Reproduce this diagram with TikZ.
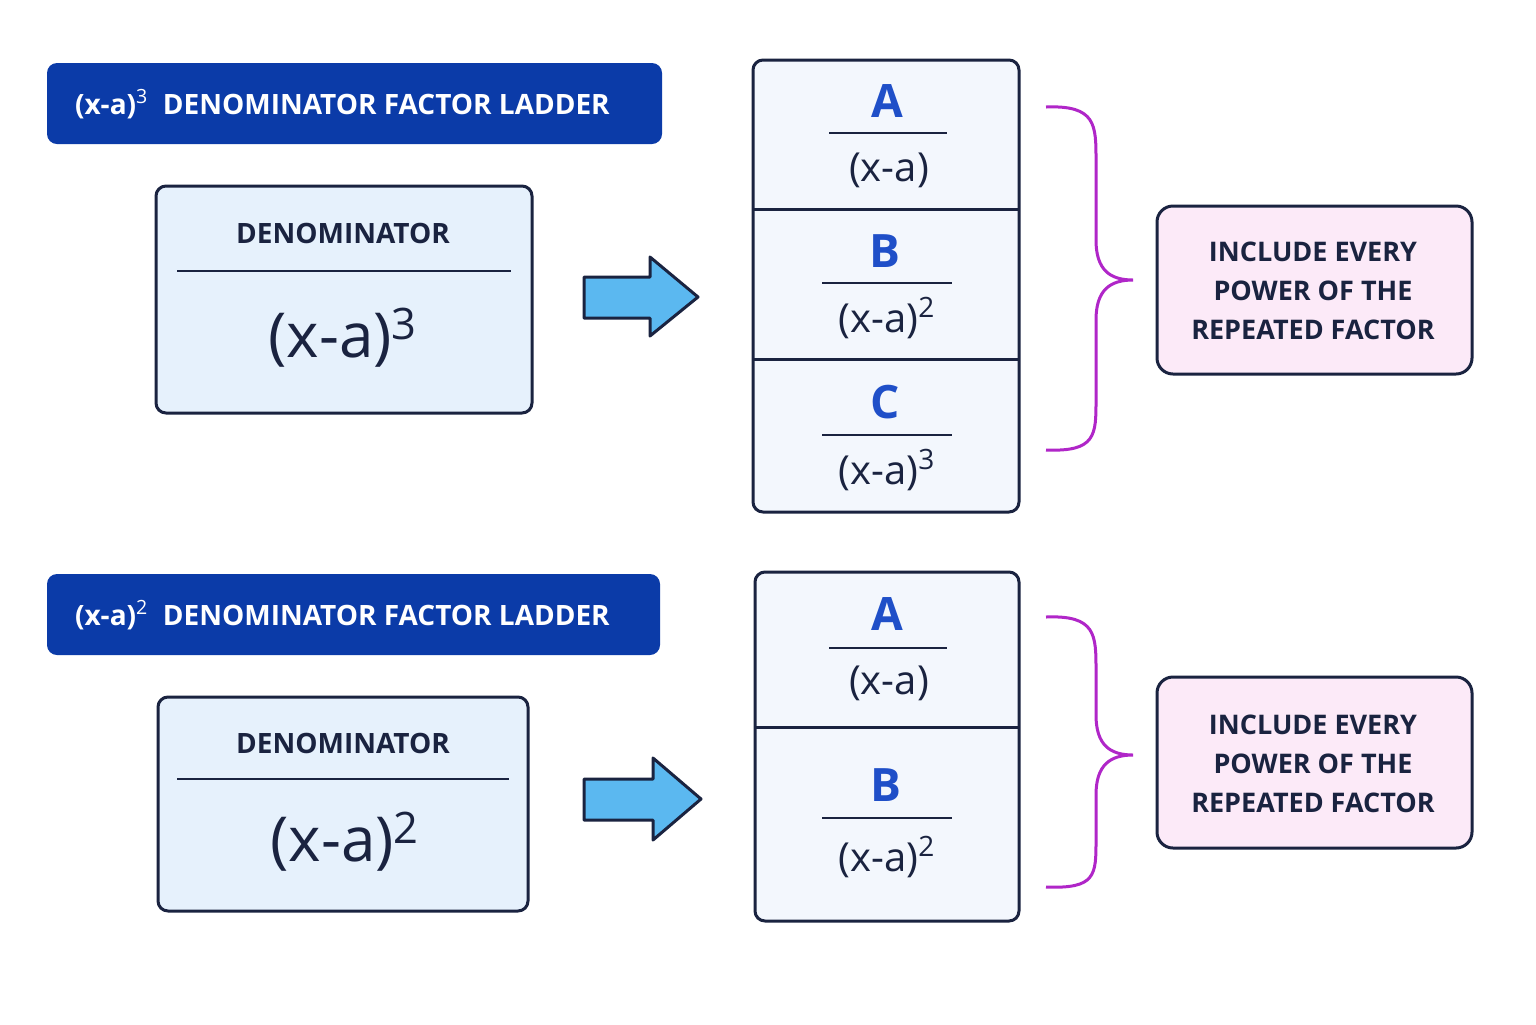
\documentclass[tikz,border=0pt]{standalone}
\usepackage{fontspec}
\setmainfont{Open Sans}
\definecolor{navy}{HTML}{1A2340}
\definecolor{tblue}{HTML}{0B3BA8}
\definecolor{lblue}{HTML}{E6F1FC}
\definecolor{cell}{HTML}{F3F7FD}
\definecolor{letter}{HTML}{1F4FC8}
\definecolor{arrowc}{HTML}{5BB8F0}
\definecolor{purp}{HTML}{B026C8}
\definecolor{pink}{HTML}{FCEAF8}
\begin{document}
\begin{tikzpicture}[x=0.5pt,y=-0.5pt,
 title/.style={fill=tblue,rounded corners=5pt},
 ttext/.style={text=white,font=\fontsize{14}{16}\selectfont\bfseries,anchor=west},
 denbox/.style={draw=navy,line width=1.5pt,fill=lblue,rounded corners=5pt},
 lad/.style={draw=navy,line width=1.5pt,fill=cell,rounded corners=5pt},
 sep/.style={draw=navy,line width=1.5pt},
 bar/.style={draw=navy,line width=1.2pt},
 lbl/.style={text=navy,font=\fontsize{14}{16}\selectfont\bfseries},
 big/.style={text=navy,font=\fontsize{31}{34}\selectfont},
 let/.style={text=letter,font=\fontsize{23}{26}\selectfont\bfseries},
 den/.style={text=navy,font=\fontsize{20}{22}\selectfont},
 arr/.style={draw=navy,line width=1.5pt,fill=arrowc,line join=round},
 brace/.style={draw=purp,line width=1.5pt},
 pbox/.style={draw=navy,line width=1.5pt,fill=pink,rounded corners=8pt},
 ptext/.style={text=navy,font=\fontsize{13.5}{19.5}\selectfont\bfseries,align=center}]
\fill[white] (0,0) rectangle (1536,1024);
% ===== top =====
\path[title] (47,63) rectangle (662,144);
\node[ttext] (t1) at (68,104) {(x-a)\textsuperscript{\mdseries 3}\ \ DENOMINATOR FACTOR LADDER};
\path[denbox] (156,186) rectangle (532,413);
\node[lbl] (d1) at (343,233) {DENOMINATOR};
\draw[bar] (177,271) -- (511,271);
\node[big] (e1) at (343,338) {(x-a)\textsuperscript{3}};
\draw[arr] (584,277) -- (650,277) -- (650,257) -- (698,297) -- (650,336) -- (650,318) -- (584,318) -- cycle;
\path[lad] (753,60) rectangle (1019,512);
\draw[sep] (753,209) -- (1019,209);
\draw[sep] (753,359) -- (1019,359);
\node[let] (a1) at (887,101) {A};
\draw[bar] (829,133) -- (947,133);
\node[den] (a1d) at (889,170) {(x-a)};
\node[let] (b1) at (885,251) {B};
\draw[bar] (822,283) -- (952,283);
\node[den] (b1d) at (887,318) {(x-a)\textsuperscript{2}};
\node[let] (c1) at (885,402) {C};
\draw[bar] (822,435) -- (952,435);
\node[den] (c1d) at (887,470) {(x-a)\textsuperscript{3}};
\draw[brace] (1046,107) .. controls (1096,105) and (1096,125) .. (1096,160) -- (1096,240) .. controls (1096,270) and (1110,280) .. (1133,280) .. controls (1110,280) and (1096,290) .. (1096,320) -- (1096,400) .. controls (1096,435) and (1096,452) .. (1046,450);
\path[pbox] (1157,206) rectangle (1472,374);
\node[ptext] (p1) at (1313,291) {INCLUDE EVERY\\POWER OF THE\\REPEATED FACTOR};
% ===== bottom =====
\path[title] (47,574) rectangle (660,655);
\node[ttext] (t2) at (68,615) {(x-a)\textsuperscript{\mdseries 2}\ \ DENOMINATOR FACTOR LADDER};
\path[denbox] (158,697) rectangle (528,911);
\node[lbl] (d2) at (343,743) {DENOMINATOR};
\draw[bar] (177,779) -- (509,779);
\node[big] (e2) at (345,842) {(x-a)\textsuperscript{2}};
\draw[arr] (584,779) -- (653,779) -- (653,758) -- (701,799) -- (653,840) -- (653,820) -- (584,820) -- cycle;
\path[lad] (755,572) rectangle (1019,921);
\draw[sep] (755,727) -- (1019,727);
\node[let] (a2) at (887,614) {A};
\draw[bar] (829,648) -- (947,648);
\node[den] (a2d) at (889,683) {(x-a)};
\node[let] (b2) at (886,785) {B};
\draw[bar] (822,818) -- (952,818);
\node[den] (b2d) at (887,857) {(x-a)\textsuperscript{2}};
\draw[brace] (1046,617) .. controls (1096,615) and (1096,635) .. (1096,670) -- (1096,715) .. controls (1096,745) and (1110,755) .. (1133,755) .. controls (1110,755) and (1096,765) .. (1096,795) -- (1096,840) .. controls (1096,875) and (1096,889) .. (1046,887);
\path[pbox] (1157,677) rectangle (1472,848);
\node[ptext] (p2) at (1313,764) {INCLUDE EVERY\\POWER OF THE\\REPEATED FACTOR};
\end{tikzpicture}
\end{document}
